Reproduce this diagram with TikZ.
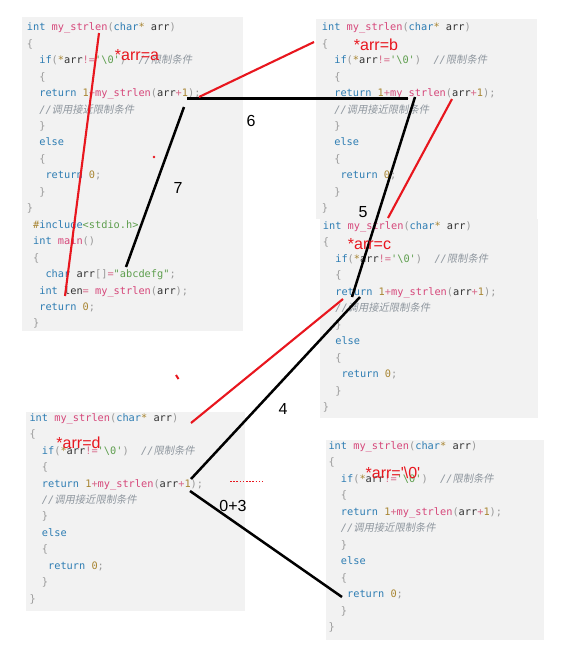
\documentclass[tikz,border=0pt]{standalone}
\usepackage{fontspec}
\setmonofont{DejaVu Sans Mono}
\newfontfamily\cjk[FakeSlant=0.2]{Noto Sans CJK SC}
\newfontfamily\lblfont{Liberation Sans}
\definecolor{kw}{HTML}{2E7DB3}
\definecolor{fn}{HTML}{D6477A}
\definecolor{num}{HTML}{A88532}
\definecolor{str}{HTML}{5E9E4E}
\definecolor{pun}{HTML}{9A9A9A}
\definecolor{op}{HTML}{D86A8A}
\definecolor{txt}{HTML}{333333}
\definecolor{cmt}{HTML}{8E969E}
\definecolor{boxgray}{HTML}{F2F2F2}
\definecolor{myred}{HTML}{E8161E}
\newcommand\codefont{\ttfamily\fontsize{10.3}{12}\selectfont}
\newcommand\Kw[1]{\textcolor{kw}{#1}}
\newcommand\Fn[1]{\textcolor{fn}{#1}}
\newcommand\Nm[1]{\textcolor{num}{#1}}
\newcommand\St[1]{\textcolor{str}{#1}}
\newcommand\Pu[1]{\textcolor{pun}{#1}}
\newcommand\Op[1]{\textcolor{op}{#1}}
\newcommand\Zh[1]{{\cjk\upshape #1}}
\newcommand\Cm[1]{{\color{cmt}\itshape #1}}
\newcommand\qs{\textquotesingle}
\newcounter{ln}
\newcommand\codeln[4]{\stepcounter{ln}\node[code] (ln\arabic{ln}) at ({#1+#3*6.2},{#2}) {#4};}
\newcommand\fnbody[2]{%
  \codeln{#1}{#2}{0}{\Kw{int} \Fn{my\_strlen}\Pu{(}\Kw{char}\Nm{*} arr\Pu{)}}
  \codeln{#1}{#2+16.45}{0}{\Pu{\{}}
  \codeln{#1}{#2+2*16.45}{2}{\Kw{if}\Pu{(}\Nm{*}arr\Op{!=}\St{\qs\textbackslash 0\qs}\Pu{)}\hspace*{12.4pt}\Cm{//\Zh{限制条件}}}
  \codeln{#1}{#2+3*16.45}{2}{\Pu{\{}}
  \codeln{#1}{#2+4*16.45}{2}{\Kw{return} \Nm{1}\Op{+}\Fn{my\_strlen}\Pu{(}arr\Op{+}\Nm{1}\Pu{);}}
  \codeln{#1}{#2+5*16.45}{2}{\Cm{//\Zh{调用接近限制条件}}}
  \codeln{#1}{#2+6*16.45}{2}{\Pu{\}}}
  \codeln{#1}{#2+7*16.45}{2}{\Kw{else}}
  \codeln{#1}{#2+8*16.45}{2}{\Pu{\{}}
  \codeln{#1}{#2+9*16.45}{3}{\Kw{return} \Nm{0}\Pu{;}}
  \codeln{#1}{#2+10*16.45}{2}{\Pu{\}}}
  \codeln{#1}{#2+11*16.45}{0}{\Pu{\}}}
}
\tikzset{
  code/.style={anchor=base west, inner sep=0pt, font=\codefont, text=txt},
  codebox/.style={fill=boxgray, draw=none, anchor=north west, inner sep=0pt},
  redline/.style={draw=myred, line width=2.1pt},
  blkline/.style={draw=black, line width=2.5pt},
  redlbl/.style={font=\lblfont\fontsize{16}{19}\selectfont, text=myred, inner sep=0pt},
  numlbl/.style={font=\lblfont\fontsize{16}{19}\selectfont, text=black, inner sep=0pt},
}
\begin{document}
\begin{tikzpicture}[x=1pt,y=-1pt]
\useasboundingbox[fill=white] (0,0) rectangle (570,670);
% code boxes
\node[codebox, minimum width=221pt, minimum height=314pt] (boxA) at (22,17) {};
\node[codebox, minimum width=221pt, minimum height=200pt] (boxB) at (316,19) {};
\node[codebox, minimum width=218pt, minimum height=199pt] (boxC) at (320,219) {};
\node[codebox, minimum width=219pt, minimum height=199pt] (boxD) at (26,412) {};
\node[codebox, minimum width=218pt, minimum height=200pt] (boxE) at (326,440) {};
% code
\fnbody{26.7}{30.8}
\codeln{26.7}{30.8+12*16.45}{1}{\Nm{\#}\Kw{include}\St{<stdio.h>}}
\codeln{26.7}{30.8+13*16.45}{1}{\Kw{int} \Fn{main}\Pu{()}}
\codeln{26.7}{30.8+14*16.45}{1}{\Pu{\{}}
\codeln{26.7}{30.8+15*16.45}{3}{\Kw{char} arr\Pu{[]}\Op{=}\St{"abcdefg"}\Pu{;}}
\codeln{26.7}{30.8+16*16.45}{2}{\Kw{int} len\Op{=} \Fn{my\_strlen}\Pu{(}arr\Pu{);}}
\codeln{26.7}{30.8+17*16.45}{2}{\Kw{return} \Nm{0}\Pu{;}}
\codeln{26.7}{30.8+18*16.45}{1}{\Pu{\}}}
\fnbody{321.7}{30.8}
\fnbody{322.7}{229.5}
\fnbody{29.3}{421.2}
\fnbody{328.3}{449.5}
% connector end points
\coordinate (r1a) at (99,33);   \coordinate (r1b) at (65,296);
\coordinate (h1a) at (187,98.5); \coordinate (h1b) at (408,98.5);
\coordinate (rab1) at (199,97); \coordinate (rab2) at (314,42);
\coordinate (k7a) at (184,107); \coordinate (k7b) at (126,267);
\coordinate (k5a) at (415,97);  \coordinate (k5b) at (352,297);
\coordinate (rbc1) at (452,99); \coordinate (rbc2) at (388,218);
\coordinate (rcd1) at (343,299); \coordinate (rcd2) at (191,423);
\coordinate (k4a) at (360,297); \coordinate (k4b) at (191,479);
\coordinate (k3a) at (190,491); \coordinate (k3b) at (342,597);
\coordinate (dta) at (230,481.5); \coordinate (dtb) at (263,481.5);
\coordinate (tka) at (176,375); \coordinate (tkb) at (178.5,379);
\coordinate (dot) at (154,157);
% connectors
\draw[redline] (r1a) -- (r1b);
\draw[blkline] (h1a) -- (h1b);
\draw[redline] (rab1) -- (rab2);
\draw[blkline] (k7a) -- (k7b);
\draw[blkline] (k5a) -- (k5b);
\draw[redline] (rbc1) -- (rbc2);
\draw[redline] (rcd1) -- (rcd2);
\draw[blkline] (k4a) -- (k4b);
\draw[blkline] (k3a) -- (k3b);
\draw[draw=myred, line width=1.6pt, dash pattern=on 1.6pt off 1.6pt] (dta) -- (dtb);
\draw[draw=myred, line width=2pt] (tka) -- (tkb);
\fill[myred] (dot) circle (1.4pt);
% labels
\node[redlbl] (la) at (137,55) {*arr=a};
\node[redlbl] (lb) at (376,45) {*arr=b};
\node[redlbl] (lc) at (369.5,244) {*arr=c};
\node[redlbl] (ld) at (78.5,443) {*arr=d};
\node[redlbl] (le) at (393,473) {*arr=\qs\textbackslash 0\qs};
\node[numlbl] (n6) at (251,121) {6};
\node[numlbl] (n7) at (178,188) {7};
\node[numlbl] (n5) at (363,212) {5};
\node[numlbl] (n4) at (283,409) {4};
\node[numlbl] (n03) at (233,506) {0+3};
\end{tikzpicture}
\end{document}
